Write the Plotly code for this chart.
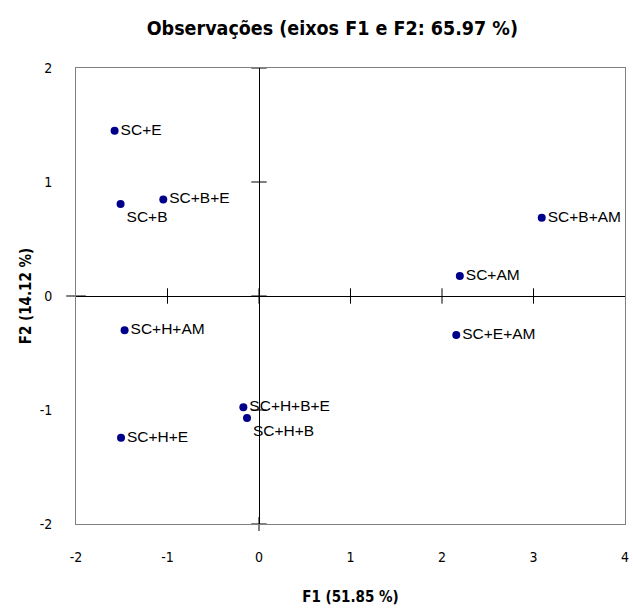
import plotly.graph_objects as go

labels = ["SC+E", "SC+B", "SC+B+E", "SC+B+AM", "SC+AM", "SC+E+AM",
          "SC+H+AM", "SC+H+B+E", "SC+H+B", "SC+H+E"]
f1 = [-1.578, -1.513, -1.046, 3.09, 2.195, 2.156, -1.469, -0.171, -0.131, -1.508]
f2 = [1.45, 0.807, 0.847, 0.686, 0.175, -0.343, -0.30, -0.975, -1.07, -1.243]
text_pos = ["middle right", "bottom right", "middle right", "middle right", "middle right",
            "middle right", "middle right", "middle right", "bottom right", "middle right"]

x_ticks = [-2, -1, 0, 1, 2, 3, 4]
x_tick_text = ["-2", "-1", "0", "1", "2", "3", "4"]
y_ticks = [-2, -1, 0, 1, 2]
y_tick_text = ["-2", "-1", "0", "1", "2"]

title_text = "Observações (eixos F1 e F2: 65.97 %)"
x_title = "F1 (51.85 %)"
y_title = "F2 (14.12 %)"

narrow = "DejaVu Sans Condensed, Liberation Sans Narrow, Arial Narrow, Liberation Sans, sans-serif"

fig = go.Figure()

# crossing tick marks on the zero axes
fig.add_trace(go.Scatter(
    x=x_ticks[1:-1], y=[0] * (len(x_ticks) - 2),
    mode="markers", hoverinfo="skip", showlegend=False,
    marker=dict(symbol="line-ns", size=11, line=dict(color="black", width=1))))
fig.add_trace(go.Scatter(
    x=[0] * len(y_ticks), y=y_ticks,
    mode="markers", hoverinfo="skip", showlegend=False, cliponaxis=False,
    marker=dict(symbol="line-ew", size=11, line=dict(color="black", width=1))))
# small overhang of zero lines outside the frame
fig.add_trace(go.Scatter(
    x=[x_ticks[0]], y=[0], mode="markers", hoverinfo="skip", showlegend=False, cliponaxis=False,
    marker=dict(symbol="line-ew", size=14, line=dict(color="black", width=1))))
fig.add_trace(go.Scatter(
    x=[0], y=[y_ticks[0]], mode="markers", hoverinfo="skip", showlegend=False, cliponaxis=False,
    marker=dict(symbol="line-ns", size=10, line=dict(color="black", width=1))))

fig.add_trace(go.Scatter(
    x=f1, y=f2, mode="markers+text", text=labels, textposition=text_pos,
    textfont=dict(family="Liberation Sans, Arial, sans-serif", size=15.5, color="black"),
    marker=dict(color="#00008B", size=8), showlegend=False))

fig.update_layout(
    width=633, height=608,
    margin=dict(l=76, r=4, t=68, b=84),
    paper_bgcolor="white", plot_bgcolor="white",
    title=dict(text=title_text, x=0.525, xref="container", y=0.954, yref="container",
               xanchor="center", yanchor="middle",
               font=dict(family=narrow, size=19.5, color="black", weight="bold")),
    font=dict(family=narrow, size=14, color="black"),
)
fig.update_xaxes(
    range=[-2, 4], tickvals=x_ticks, ticktext=x_tick_text, showgrid=False,
    zeroline=True, zerolinecolor="black", zerolinewidth=1,
    showline=True, linecolor="#808080", linewidth=1, mirror=True,
    ticks="outside", ticklen=20, tickcolor="rgba(0,0,0,0)", ticklabeloverflow="allow",
    tickfont=dict(family=narrow, size=14),
    title=dict(text=x_title, standoff=27, font=dict(family=narrow, size=15, weight="bold")))
fig.update_yaxes(
    range=[-2, 2], tickvals=y_ticks, ticktext=y_tick_text, showgrid=False,
    zeroline=True, zerolinecolor="black", zerolinewidth=1,
    showline=True, linecolor="#808080", linewidth=1, mirror=True,
    ticks="outside", ticklen=20, tickcolor="rgba(0,0,0,0)", ticklabeloverflow="allow",
    tickfont=dict(family=narrow, size=14),
    title=dict(text=y_title, standoff=4, font=dict(family=narrow, size=15, weight="bold")))

fig.write_html("out.html", config={"displayModeBar": False},
               post_script="document.body.style.margin='0';")
